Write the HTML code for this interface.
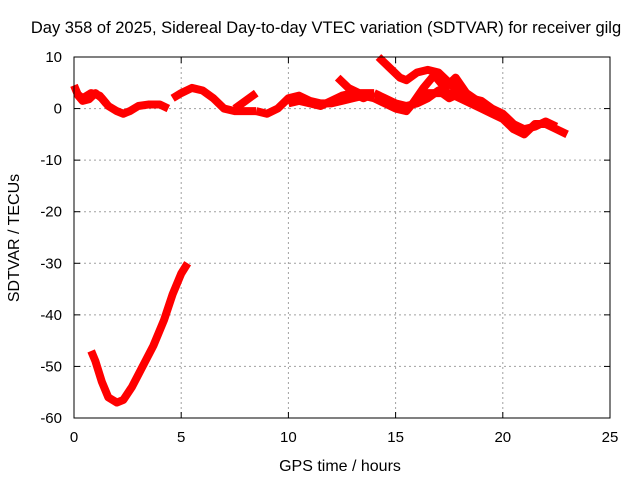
<!DOCTYPE html>
<html><head><meta charset="utf-8"><style>
body{margin:0;background:#fff}
svg{display:block;font-family:"Liberation Sans",sans-serif}
</style></head><body>
<svg id="c" width="640" height="480"></svg>
<script>
const xTicks=[0,5,10,15,20,25];
const yTicks=[10,0,-10,-20,-30,-40,-50,-60];
const sA_t=[0,0.2,0.4,0.7,1,1.3,1.6,2,2.3,2.6,3,3.5,4,4.4];
const sA_v=[4.5,2.5,1.5,1.8,3,2,0.5,-0.5,-1,-0.5,0.5,0.8,0.8,0];
const sA2_t=[0.1,0.4,0.8,1.2,1.5];
const sA2_v=[3,2,3,2.5,1];
const sB_t=[4.6,5,5.5,6,6.5,7,7.5,8,8.5];
const sB_v=[2,3,4,3.5,2,0,-0.5,-0.5,-0.5];
const sB2_t=[7.5,8,8.5];
const sB2_v=[0,1.5,3];
const sC_t=[8.5,9,9.5,10,10.5,11,11.5,12,12.5,13,13.5,14];
const sC_v=[-0.5,-1,0,2,2.5,1.5,1,1,1.5,2,2.5,2];
const sC2_t=[10,10.5,11,11.5,12,12.5,13,13.5,14];
const sC2_v=[1,1.5,1,0.5,1.5,2.5,3,2,3];
const sD_t=[14,14.5,15,15.5,16,16.5,17,17.5,18,18.5,19,19.5,20,20.5,21,21.5,22,22.5,23];
const sD_v=[2,1,0,-0.5,2,3,3,3,2,1,0,-1,-2,-4,-5,-3,-3,-4,-5];
const sD2_t=[14,14.5,15,15.5,16,16.5,17,17.5,18,18.5,19,19.5,20,20.5,21,21.5,22,22.5];
const sD2_v=[3,2,1,0.5,1,2,3.5,2,3,2,1.5,0,-1,-3,-4,-3.5,-2.5,-3.5];
const sE_t=[14.2,14.7,15.2,15.5,16,16.5,17,17.5,18];
const sE_v=[10,8,6,5.5,7,7.5,7,5,3];
const sF_t=[12.3,12.8,13.3,14];
const sF_v=[6,4,3,3];
const sG_t=[15.8,16.3,16.8,17.3,17.8,18.3,19];
const sG_v=[1,4,6.5,4,6,3,1];
const sH_t=[0.8,1,1.3,1.6,2,2.3,2.7,3.2,3.7,4.2,4.6,5,5.3];
const sH_v=[-47,-49,-53,-56,-57,-56.5,-54,-50,-46,-41,-36,-32,-30];
const series=[[sA_t,sA_v],[sA2_t,sA2_v],[sB_t,sB_v],[sB2_t,sB2_v],[sC_t,sC_v],[sC2_t,sC2_v],[sD_t,sD_v],[sD2_t,sD2_v],[sE_t,sE_v],[sF_t,sF_v],[sG_t,sG_v],[sH_t,sH_v]];
const L=74,R=610,T=57,B=418;
const X=t=>L+(t-0)/25*(R-L);
const Y=v=>T+(10-v)/70*(B-T);
const svg=document.getElementById('c');
const NS='http://www.w3.org/2000/svg';
function mk(tag,at){const e=document.createElementNS(NS,tag);for(const k in at)e.setAttribute(k,at[k]);svg.appendChild(e);return e;}
xTicks.forEach(t=>{
  if(t>0&&t<25){const g=mk('line',{x1:X(t),x2:X(t),y1:T,y2:B,stroke:'#a0a0a0','stroke-dasharray':'2,3'});
  
  }
  const tk=mk('line',{x1:X(t),x2:X(t),y1:B,y2:B-6,stroke:'#000'});
  
  
  const tk2=mk('line',{x1:X(t),x2:X(t),y1:T,y2:T+6,stroke:'#000'});
  
  
  const lb=mk('text',{x:X(t),y:B+24,'text-anchor':'middle','font-size':15});
  lb.textContent=t;
  
  
});
yTicks.forEach(v=>{
  if(v<10&&v>-60){const g=mk('line',{x1:L,x2:R,y1:Y(v),y2:Y(v),stroke:'#a0a0a0','stroke-dasharray':'2,3'});
  
  }
  const tk=mk('line',{x1:L,x2:L+6,y1:Y(v),y2:Y(v),stroke:'#000'});
  
  
  const tk2=mk('line',{x1:R,x2:R-6,y1:Y(v),y2:Y(v),stroke:'#000'});
  
  
  const lb=mk('text',{x:L-12,y:Y(v)+5,'text-anchor':'end','font-size':15});
  lb.textContent=v;
  
  
});
series.forEach(([ts,vs])=>{
  const p=mk('polyline',{points:ts.map((t,i)=>X(t)+','+Y(vs[i])).join(' '),fill:'none',stroke:'#ff0000','stroke-width':8,'stroke-linejoin':'round'});
  
  
});
const fr=mk('rect',{x:L,y:T,width:R-L,height:B-T,fill:'none',stroke:'#000','stroke-width':1});


const ti=mk('text',{x:326,y:33,'text-anchor':'middle','font-size':16.5});
ti.textContent='Day 358 of 2025, Sidereal Day-to-day VTEC variation (SDTVAR) for receiver gilg';


const xt=mk('text',{x:340,y:471,'text-anchor':'middle','font-size':16});
xt.textContent='GPS time / hours';


const yt=mk('text',{x:19,y:238,'text-anchor':'middle','font-size':16,transform:'rotate(-90 19 238)'});
yt.textContent='SDTVAR / TECUs';


</script>
</body></html>
